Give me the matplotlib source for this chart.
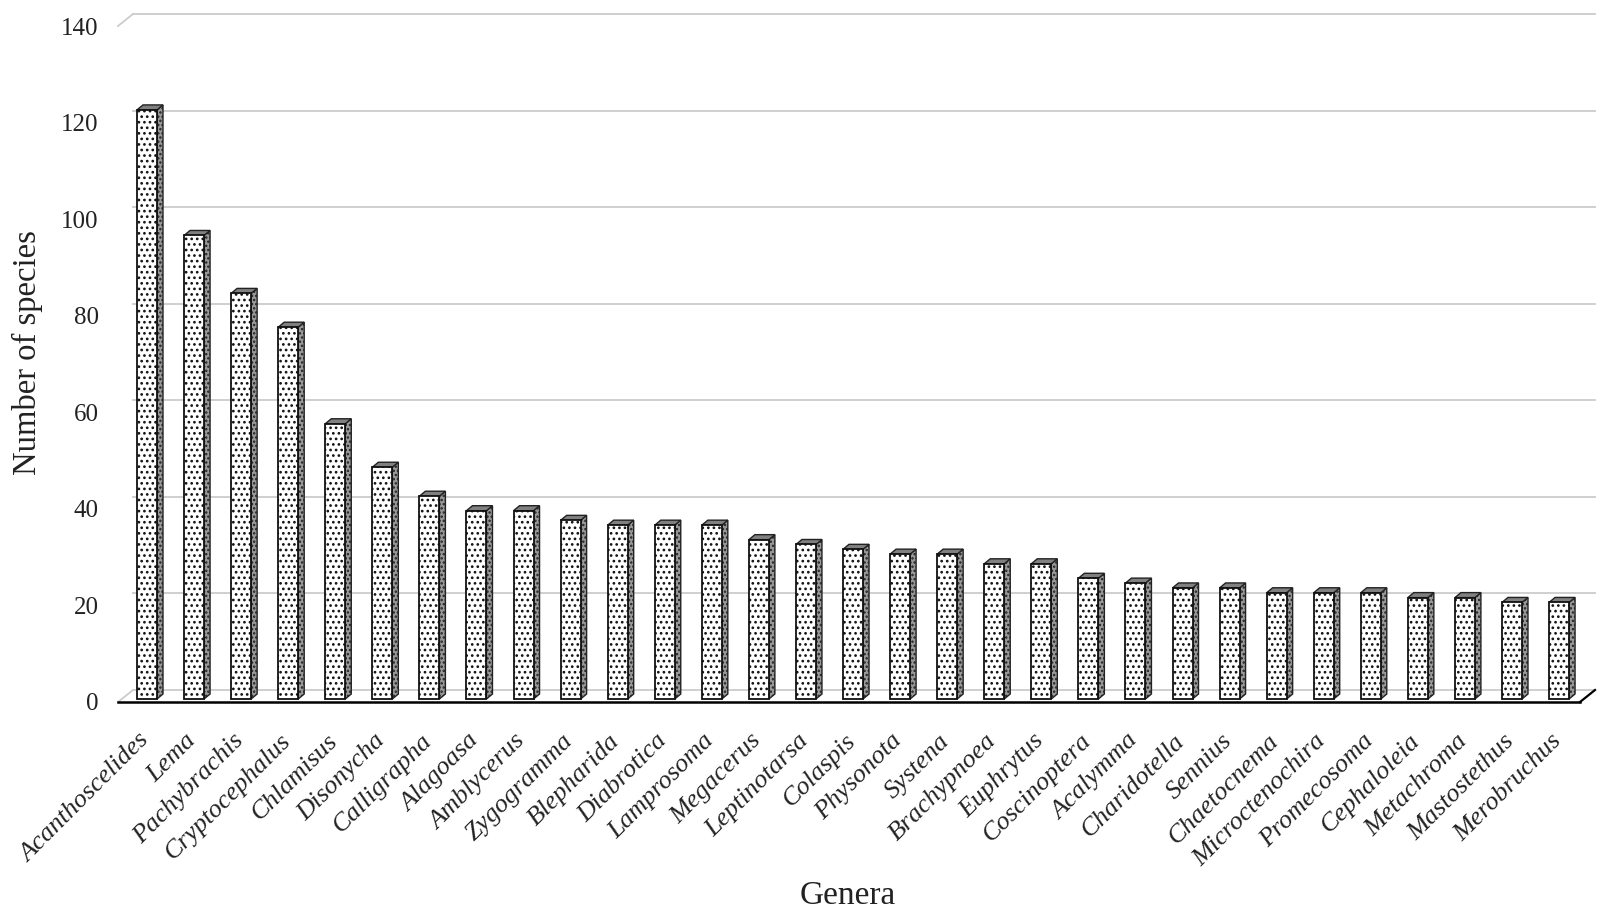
import matplotlib
matplotlib.use("Agg")
import matplotlib.pyplot as plt
from matplotlib.transforms import ScaledTranslation

plt.rcParams["font.family"] = ["Liberation Serif", "DejaVu Serif"]
plt.rcParams["hatch.linewidth"] = 1.15

genera = [
    "Acanthoscelides", "Lema", "Pachybrachis", "Cryptocephalus", "Chlamisus",
    "Disonycha", "Calligrapha", "Alagoasa", "Amblycerus", "Zygogramma",
    "Blepharida", "Diabrotica", "Lamprosoma", "Megacerus", "Leptinotarsa",
    "Colaspis", "Physonota", "Systena", "Brachypnoea", "Euphrytus",
    "Coscinoptera", "Acalymma", "Charidotella", "Sennius", "Chaetocnema",
    "Microctenochira", "Promecosoma", "Cephaloleia", "Metachroma",
    "Mastostethus", "Merobruchus",
]
species = [
    122, 96, 84, 77, 57, 48, 42, 39, 39, 37, 36, 36, 36, 33, 32, 31, 30, 30,
    28, 28, 25, 24, 23, 23, 22, 22, 22, 21, 21, 20, 20,
]
y_ticks = [0, 20, 40, 60, 80, 100, 120, 140]

# pixel sizes of the fake 3D look
W, H = 1600, 913
PX_X = 1 / 47.07  # category units per pixel
PX_Y = 1 / 4.83   # value units per pixel
floor_dx, floor_dy = 15 * PX_X, 12 * PX_Y
bar_dx, bar_dy = 6 * PX_X, 5 * PX_Y
bar_w = 20 * PX_X
bar_base = 3 * PX_Y

fig = plt.figure(figsize=(W / 100, H / 100), dpi=100, facecolor="white")
left, right, bottom, top = 118, 1580, 702, 26
ax = fig.add_axes([left / W, 1 - bottom / H, (right - left) / W, (bottom - top) / H])
ax.set_xlim(-0.616, 30.445)
ax.set_ylim(0, (bottom - top) * PX_Y)
ax.patch.set_alpha(0)
for s in ax.spines.values():
    s.set_visible(False)

# back wall
x0, x1 = ax.get_xlim()
for v in y_ticks:
    ax.plot([x0 + floor_dx, x1 + floor_dx], [v + floor_dy] * 2, color="#cccccc", lw=1.3,
            clip_on=False, zorder=1)
for v in [0, 140]:
    ax.plot([x0, x0 + floor_dx], [v, v + floor_dy], color="#cccccc", lw=1.3, clip_on=False, zorder=1)

# floor
ax.plot([x0, x1], [0, 0], color="black", lw=1.8, clip_on=False, zorder=6)
ax.plot([x1, x1 + floor_dx], [0, floor_dy], color="black", lw=1.6, clip_on=False, zorder=6)

# bars
xs = list(range(len(genera)))
ax.bar(xs, species, bar_w, bottom=bar_base, facecolor="white", edgecolor="#111111", lw=1.3,
       hatch="...", zorder=4, clip_on=False)
for x, v in zip(xs, species):
    r = x + bar_w / 2
    l = x - bar_w / 2
    t = v + bar_base
    ax.fill([r, r + bar_dx, r + bar_dx, r], [bar_base, bar_base + bar_dy, t + bar_dy, t],
            facecolor="#999999", edgecolor="#222222", lw=1, hatch="....", zorder=3, clip_on=False)
    ax.fill([l, l + bar_dx, r + bar_dx, r], [t, t + bar_dy, t + bar_dy, t],
            facecolor="#808080", edgecolor="#222222", lw=1, zorder=3, clip_on=False)

ax.set_yticks(y_ticks)
ax.set_yticklabels([str(v) for v in y_ticks], fontsize=18, color="#222222")
ax.set_xticks(xs)
ax.set_xticklabels(genera, rotation=45, ha="right", va="top", rotation_mode="anchor",
                   fontsize=19, style="italic", color="#222222")
ax.tick_params(axis="both", length=0)
ax.tick_params(axis="x", pad=20)
ax.tick_params(axis="y", pad=14)
shift = ScaledTranslation(-9 / 100, 0, fig.dpi_scale_trans)
for lab in ax.get_xticklabels():
    lab.set_transform(lab.get_transform() + shift)

fig.text(848 / W, 1 - 896 / H, "Genera", fontsize=24, ha="center", va="center", color="#222222")
fig.text(27 / W, 1 - 353 / H, "Number of species", fontsize=23.5, rotation=90, ha="center", va="center",
         color="#222222")

fig.savefig("out.png", dpi=100)
